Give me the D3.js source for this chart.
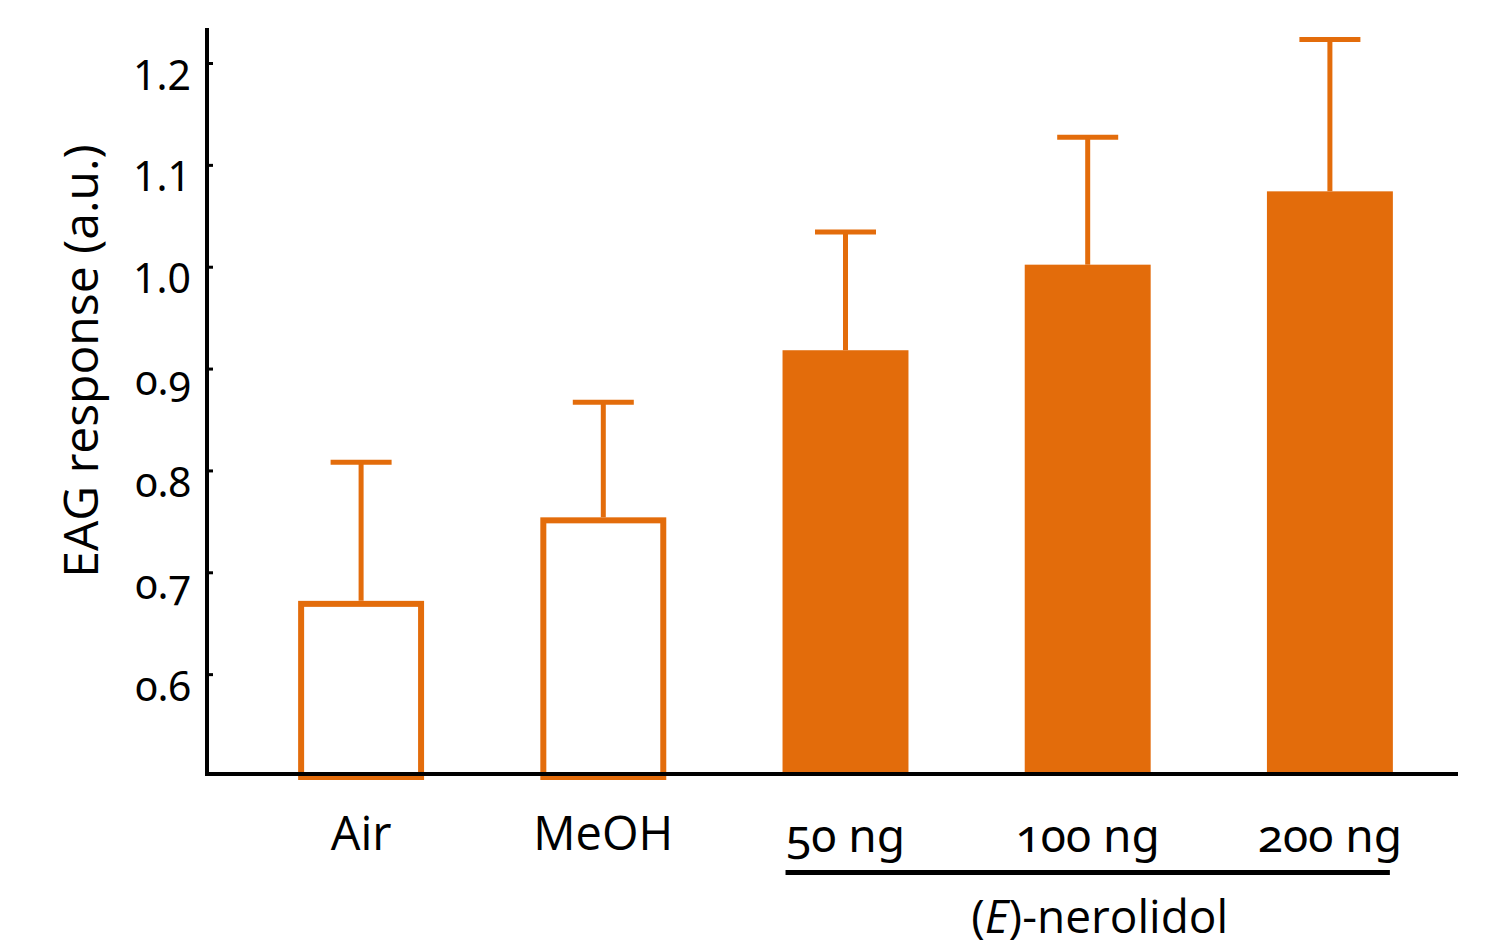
<!DOCTYPE html>
<html>
<head>
<meta charset="utf-8">
<script src="https://cdn.jsdelivr.net/npm/d3@7"></script>
<style>
  html, body { margin: 0; padding: 0; background: #fff; }
  svg { display: block; }
  text { font-family: "Open Sans", "Noto Sans", sans-serif; fill: #000; }
</style>
</head>
<body>
<svg id="chart" width="1505" height="945"></svg>
<script>
// EAG responses to controls and (E)-nerolidol doses
const categories = ["Air", "MeOH", "50 ng", "100 ng", "200 ng"];
const means      = [0.669, 0.751, 0.918, 1.002, 1.074];
const upperErr   = [0.808, 0.867, 1.034, 1.127, 1.223];
const isControl  = [true, true, false, false, false];
const yTicks     = [0.6, 0.7, 0.8, 0.9, 1.0, 1.1, 1.2];
const yTitle     = "EAG response (a.u.)";
const groupLabel = "-nerolidol";

const orange = "#e36c0b";
const svg = d3.select("#chart");

const axisX = 207, axisTop = 28, axisRight = 1458;
const y = d3.scaleLinear().domain([0.5, 1.2]).range([776, 63]);
const x = d3.scaleBand().domain(categories)
  .range([240, 1451]).paddingInner(0.48).paddingOuter(0.24);
const bw = x.bandwidth();

const data = categories.map((c, i) => ({ c, m: means[i], e: upperErr[i], ctrl: isControl[i] }));

// bars
const sw = 6;
data.forEach(d => {
  const x0 = x(d.c);
  if (d.ctrl) {
    svg.append("rect")
      .attr("x", x0 + sw / 2).attr("y", y(d.m) + sw / 2 - 3)
      .attr("width", bw - sw).attr("height", y(0.5) - y(d.m) + 1)
      .attr("fill", "#fff").attr("stroke", orange).attr("stroke-width", sw);
  } else {
    svg.append("rect")
      .attr("x", x0).attr("y", y(d.m))
      .attr("width", bw).attr("height", y(0.5) - y(d.m))
      .attr("fill", orange);
  }
  const cx = x0 + bw / 2;
  // error bar stem and cap
  svg.append("line")
    .attr("x1", cx).attr("x2", cx)
    .attr("y1", y(d.m) - (d.ctrl ? 3 : 0)).attr("y2", y(d.e))
    .attr("stroke", orange).attr("stroke-width", 5);
  svg.append("line")
    .attr("x1", cx - 30.5).attr("x2", cx + 30.5)
    .attr("y1", y(d.e)).attr("y2", y(d.e))
    .attr("stroke", orange).attr("stroke-width", 5);
});

// y axis with inward ticks
const yAxis = d3.axisLeft(y).tickValues(yTicks)
  .tickSizeInner(-6).tickSizeOuter(0).tickFormat(d3.format(".1f"));
const gy = svg.append("g").attr("transform", `translate(${axisX},0)`).call(yAxis);
gy.select(".domain").remove();
gy.selectAll(".tick line").attr("stroke", "#000").attr("stroke-width", 3);
gy.selectAll(".tick text")
  .attr("x", -16).attr("dy", null).attr("y", 26)
  .attr("text-anchor", "end")
  .style("font-family", "'Noto Sans', sans-serif")
  .style("font-size", "41px")
  .style("font-variant-numeric", d => d < 1 ? "oldstyle-nums" : "lining-nums");

svg.append("line")
  .attr("x1", axisX).attr("x2", axisX).attr("y1", axisTop).attr("y2", 776)
  .attr("stroke", "#000").attr("stroke-width", 4);
svg.append("line")
  .attr("x1", axisX - 2).attr("x2", axisRight).attr("y1", y(0.5) - 2).attr("y2", y(0.5) - 2)
  .attr("stroke", "#000").attr("stroke-width", 4);

// category labels
svg.selectAll("text.cat").data(data).enter().append("text")
  .attr("class", "cat")
  .attr("x", d => x(d.c) + bw / 2)
  .attr("y", d => d.ctrl ? 850 : 852)
  .attr("text-anchor", "middle")
  .style("font-size", d => d.ctrl ? "47px" : "46px")
  .style("font-family", d => d.ctrl ? "'Open Sans', sans-serif" : "'Noto Sans', sans-serif")
  .style("font-variant-numeric", "oldstyle-nums")
  .text(d => d.c);

// grouping line under the dose labels
const doses = data.filter(d => !d.ctrl);
svg.append("line")
  .attr("x1", x(doses[0].c) + 3).attr("x2", x(doses[doses.length - 1].c) + bw - 3)
  .attr("y1", 872.5).attr("y2", 872.5)
  .attr("stroke", "#000").attr("stroke-width", 5);

const gl = svg.append("text")
  .attr("x", (x(doses[0].c) + x(doses[doses.length - 1].c) + bw) / 2 + 12)
  .attr("y", 933).attr("text-anchor", "middle").style("font-size", "46px");
gl.append("tspan").text("(");
gl.append("tspan").style("font-style", "italic").text("E");
gl.append("tspan").text(")" + groupLabel);

// y axis title
svg.append("text")
  .attr("transform", `translate(98,${361}) rotate(-90)`)
  .attr("text-anchor", "middle")
  .style("font-size", "48px")
  .text(yTitle);
</script>
</body>
</html>
